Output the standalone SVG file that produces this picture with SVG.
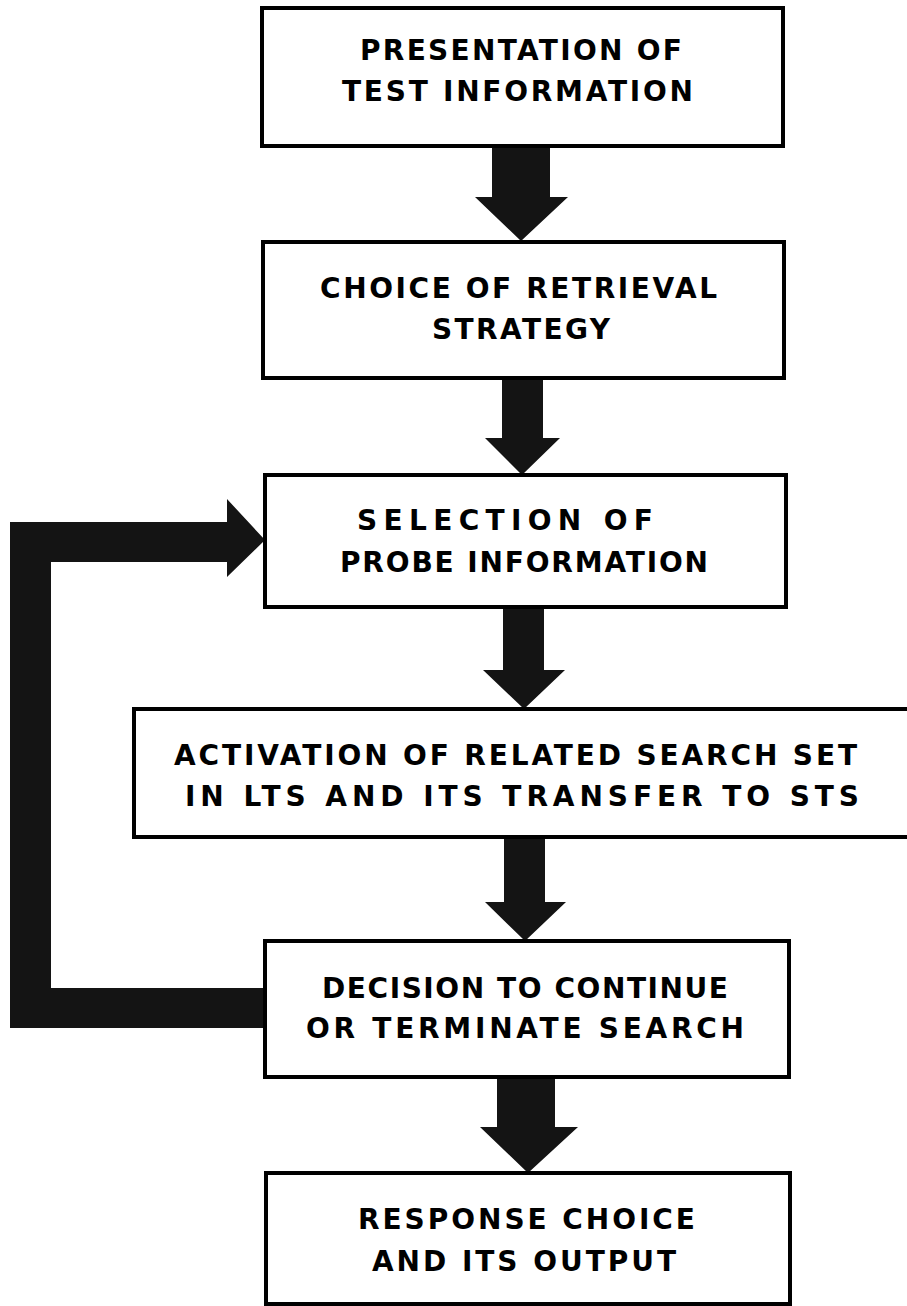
<svg xmlns="http://www.w3.org/2000/svg" width="907" height="1306" viewBox="0 0 907 1306">
<style>
.box{fill:#fff;stroke:#000;stroke-width:4}
.t{font-family:"DejaVu Sans","Liberation Sans",sans-serif;font-weight:bold;font-size:28px;fill:#000}
.arr{fill:#141414}
</style>
<rect width="907" height="1306" fill="#fff"/>
<g id="connectors">
<polygon class="arr" points="492,146 550,146 550,197 568,197 521,241 475,197 492,197"/>
<polygon class="arr" points="502,378 543,378 543,438 560,438 522,475 485,438 502,438"/>
<polygon class="arr" points="503,607 544,607 544,670 565,670 524,709 483,670 503,670"/>
<polygon class="arr" points="504,837 545,837 545,902 566,902 525,941 485,902 504,902"/>
<polygon class="arr" points="497,1077 555,1077 555,1127 578,1127 528,1173 480,1127 497,1127"/>
<polygon class="arr" points="265,1028 10,1028 10,522 227,522 227,499 265,540 227,577 227,562 51,562 51,988 265,988"/>
</g>
<g id="n1">
<rect class="box" x="262" y="8" width="521" height="138"/>
<text class="t" x="360" y="60" textLength="322" lengthAdjust="spacing">PRESENTATION OF</text>
<text class="t" x="342" y="101" textLength="351" lengthAdjust="spacing">TEST INFORMATION</text>
</g>
<g id="n2">
<rect class="box" x="263" y="242" width="521" height="136"/>
<text class="t" x="320" y="298" textLength="397" lengthAdjust="spacing">CHOICE OF RETRIEVAL</text>
<text class="t" x="432" y="339" textLength="178" lengthAdjust="spacing">STRATEGY</text>
</g>
<g id="n3">
<rect class="box" x="265" y="475" width="521" height="132"/>
<text class="t" x="357" y="530" textLength="296" lengthAdjust="spacing">SELECTION OF</text>
<text class="t" x="340" y="572" textLength="368" lengthAdjust="spacing">PROBE INFORMATION</text>
</g>
<g id="n4">
<rect class="box" x="134" y="709" width="780" height="128"/>
<text class="t" x="174" y="765" textLength="683" lengthAdjust="spacing">ACTIVATION OF RELATED SEARCH SET</text>
<text class="t" x="185" y="806" textLength="674" lengthAdjust="spacing">IN LTS AND ITS TRANSFER TO STS</text>
</g>
<g id="n5">
<rect class="box" x="265" y="941" width="524" height="136"/>
<text class="t" x="322" y="998" textLength="406" lengthAdjust="spacing">DECISION TO CONTINUE</text>
<text class="t" x="306" y="1038" textLength="438" lengthAdjust="spacing">OR TERMINATE SEARCH</text>
</g>
<g id="n6">
<rect class="box" x="266" y="1173" width="524" height="131"/>
<text class="t" x="358" y="1229" textLength="337" lengthAdjust="spacing">RESPONSE CHOICE</text>
<text class="t" x="372" y="1271" textLength="304" lengthAdjust="spacing">AND ITS OUTPUT</text>
</g>
</svg>
